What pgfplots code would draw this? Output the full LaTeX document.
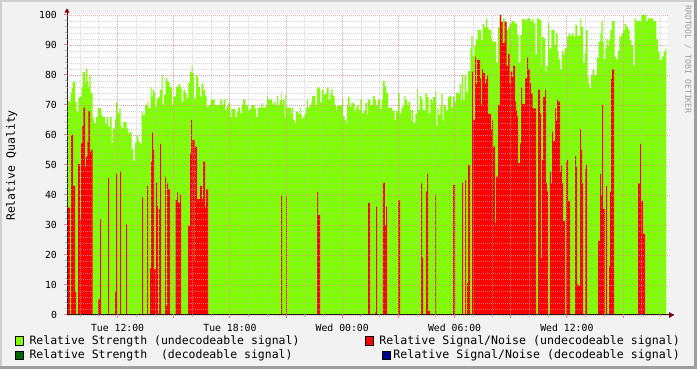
\documentclass[border=0pt]{standalone}
\usepackage{fontspec}
\setmainfont{DejaVu Sans Mono}
\usepackage{pgfplots}
\pgfplotsset{compat=1.18}
\usepackage{pgfplotstable}
\definecolor{grn}{RGB}{128,255,0}
\definecolor{rd}{RGB}{255,0,0}
\definecolor{dgrn}{RGB}{0,100,0}
\definecolor{blu}{RGB}{0,0,140}
\definecolor{bgc}{RGB}{242,242,242}
\definecolor{shA}{RGB}{207,207,207}
\definecolor{shB}{RGB}{158,158,158}
\definecolor{mgrid}{rgb}{0.96,0.5,0.5}
\definecolor{mingrid}{rgb}{0.73,0.73,0.73}
\definecolor{axc}{RGB}{32,32,32}
\definecolor{arrc}{RGB}{128,0,0}

% px = horizontal pixel position, v = relative quality (%)
\pgfplotstableread{
px v
67 72
68.3 71
70.7 74
71.7 75.5
72.7 77.8
75 71
76.7 67.8
78.3 72.5
80 72.8
81.7 75.9
82.7 81
85 77
86 82
87.3 78
88.3 76
89.3 80
90.7 74
92.7 65.5
94 64
96 66
97.7 69
101 66.7
102.7 66
105 63.7
106.7 66
108.3 62.8
110 66
111.7 57.2
112.7 62.2
115 65.2
116 71
117.3 67.2
119.3 68.9
120.7 63
121.7 62.2
123.3 64.4
126.7 62.2
128.3 60.5
130 61
131.7 55.3
133.3 51.4
135 57.4
136.7 60
138.3 57.8
140 57
141.7 67.8
142.7 66.7
145 70
147.3 71
148.3 68.9
150.7 75.9
151.7 72.8
152.7 75
154 74
155 69.4
156.7 72.2
158.3 72.8
160 75
161.7 80
162.7 70
164 73.3
165.7 78.9
167.3 77.8
169.3 76
172 70
173.3 72.8
176 76
178.3 77
180 76
181.7 71
183.3 75
185 74
186.7 72.2
188.3 77.4
190 81
191.7 83
192.7 80.5
194 72.2
196 80
197.3 79.2
198.3 76
200 72.8
201.7 77.2
203.3 75
205 73
206.7 69.2
208.3 70
210.7 71.7
212 71.9
214.7 70
220.3 71.9
222 70
223.7 71.9
225.3 68.3
227 69.5
228 70.5
230.3 66
231.3 68.7
235.3 66
237 67.8
238 69.2
240.3 67.2
242 70
243 71.9
245.3 70
248 68.1
249.7 68.8
251.3 70
254.7 68.9
256 66
257.7 69.1
261.3 70.5
262.7 69.1
266 70
267 73
268 71.9
272 70.2
273.7 71
275.3 70
277 73
278 70
279.7 71.7
281.3 74.1
282 70
283 71.9
284.7 65.9
285.3 73.3
286.3 69.1
291 67
292 69.1
293 65
294.7 64.1
296 67.8
298 67
299.7 69.1
300.7 66.7
302 65.2
303 65.9
304.7 67
306 69.1
307 71.9
308 69.1
309.7 70
311.3 71.1
312 73
315.3 70
317 75.9
319.3 75.4
320.3 70.8
322 75
323.7 73.3
325.3 74.1
327 75.9
328.7 71.9
330.3 73.9
331.3 75.2
332.7 73
334.7 70
336 68.3
337 70
338.7 69.7
340.3 70
342 71.9
343 66.3
344.7 65
346 63.9
347 70
348 72.6
349.7 69.4
351.3 70.8
352.7 70.5
354.7 68.1
356 69.1
357 70
358.7 68.3
360.3 71.9
362 67.2
363.7 68.1
365.3 70.8
367 66.7
368 71.9
370.3 70
373 73
374.7 71.9
376 70
378 71.9
380.3 68.6
382 71.9
383 78.1
384.7 76.3
386 74.1
388 69.1
392 68.1
394.7 65
396 68.1
398 73.9
399.7 67.2
401.3 68.9
403 70
404.3 73
405.3 71.7
407 70
408.7 71.1
410.3 68.3
411.3 64.7
412 68.3
413 64.1
415.3 67.2
417 75.2
418 68.3
419.7 73
421.3 71.9
422.7 68.3
424.3 68.1
425.3 73.9
427 72.6
428.7 67.2
430.3 71.9
432 70.8
433 72.6
435.3 74.7
436.3 63
437.3 68.9
438.7 66.7
440.3 70
441.3 73.9
442.7 64.8
443.7 70
445.3 69.4
446.3 68.1
448 72.6
449.7 73
451.3 69.1
453 72.8
454.7 71.1
456 74.1
458 73.9
459.7 77
461 71.4
462 80
463 71.7
464.7 80
466.3 74.4
468 81.3
470.3 88.9
471.3 93
472.7 86.3
474.3 89.7
476 91.9
477.7 95
481 91.7
482.7 97
484.3 95.9
486 98.9
487 95.9
488.7 95
491 92.2
492 91.1
496.3 84.1
498 95.9
499.7 99.2
501.3 97.8
503 98.9
504.7 97.8
506.3 95
508 95.9
509.7 97.2
512 98
514.7 97.2
517 93.3
518.7 84.1
520.3 93.3
522 98.6
525.3 98
527 98.9
530.3 98
532.7 98.9
533.7 97.2
535.3 86.9
537 98.9
539.3 98.3
541.3 82.8
542 92.8
543.7 92.2
545.3 81.1
546.3 83
548 97.2
549.3 88.9
551.3 95
554.7 90
556 93.9
557.7 87.8
558.7 85.2
560.3 81.9
562 88.1
563 86.7
564.7 88.9
567 92.8
568.7 93.9
570.3 93
572 93.9
573.7 92.8
575.3 96.7
577 93
580.3 98.9
581.3 96.1
583 84.1
584.7 87.2
586 95
587.7 79.4
588.7 77
589.7 75.6
591 80
592.7 81.9
594.3 80
597 85.6
598.7 91.1
600.3 93.9
601.3 98
602.7 91.1
603.7 85.2
605.3 88.9
606.3 91.9
607.7 89.7
608.7 91.9
610.3 95
612 98
614.7 86.1
616 85.2
618 88.1
619.3 92.8
621.3 93.9
623 95
624.7 97
626.3 96.1
628 95
629.7 91.7
631.3 90
633 83
634.7 98.9
636 98
641.3 100
646.3 98
648 98.9
653 98
656.3 91.9
658 87.8
659.7 85
662 86.1
663.7 87.8
665.3 88.9
666.3 88.9
}\strength

\pgfplotstableread{
px v
67 25.6
68 35.9
70 0
71 60
73 43
75 7.8
76 0
78 50.3
80 31.9
81 57.2
82.3 63
83.3 69.1
85 49.4
86 52.8
87.3 57.8
88.3 68
90 54.4
91 55
92.7 0
98 5.2
100 31.9
101 0
108 45.6
109 0
115 7.6
116 47
117 0
120 47.8
121 0
126 30.2
127 0
142 39.2
143 0
147 43
148 0
150 15.6
151 51.1
152 60.8
153 55
154 15.2
156 44.1
157 36.3
158 0
159 35.3
160 57
161 0
165 46.1
166 3
167 44.1
168 41.9
170 0
175.7 38.3
177 40.9
178 37.4
180 40
181 0
188 29.7
190 53.9
191 65
192 58.3
194.5 17.8
195.2 56.1
197 38.6
200 43
202 38.6
203 51.1
205 36.1
206 41.9
208 0
281 40
282 0
286 39.7
287 0
317 41
318 33.3
320 0
368 37.4
370 0
375 0.8
376 36.1
377 0
383 44.1
385 30
386 36.1
387 0
398 38.3
400 0
421 44.1
422 19.1
423 0
426 41.1
427 47
428 1.3
430 0
435 40.3
436 0
453 43.3
455 0
462 44.1
463 0
465 45
466 0
467 10.6
468 50
470 0
472 81.1
473 65
475 86.1
476 77
477 85
480 78.9
481 70
482 81.9
483 80.6
485 77
486 78.6
487 80
488 67
491 61.9
492 65
493 56.1
495 30.8
496 46.1
498 70
500 100
501 97.8
502.7 90.6
504.7 97.8
506.7 83
508 87
509.7 77
510.7 81.1
512 79.4
513 83
515 71.1
516 68.1
517 66.3
518 50.6
520 57.2
521 75.9
522 70.3
525 78.9
527 85.9
528 81.9
530 77.2
531 73.9
532.7 68.9
536 0
538 75
540 67.2
541 18.9
542 51.7
543 72.6
545 75
546 43.9
547 41.1
548 0
550 47.8
551 43.9
552 61.1
553 58
555 68.9
556 64.7
557 71.9
558 71.1
560 47.8
561 50
562 43.9
563 31.3
565 0
566 51.1
567 51.7
568 38
570 0
575 53
576 49.4
577 10.3
578 9.8
580 61.9
581 55
582 43.9
583 0
585 48.6
586 50
587 0
598 24.7
600 47
601 39.7
602 70
603 35.3
605 0
606 43
607 0
609 16.3
610 41.1
611 78.6
612 81.9
614 0
638 43.9
640 57
641 38
643 27
645 0
666.3 0
}\snr

\begin{document}
\begin{tikzpicture}[x=1pt,y=1pt]
\fill[bgc] (0,0) rectangle (697,369);
\fill[shA] (0,366.5) rectangle (697,369);
\fill[shA] (0,0) rectangle (2,369);
\fill[shB] (0,0) rectangle (697,3);
\fill[shB] (694,0) rectangle (697,369);

\begin{axis}[
  at={(67pt,54pt)}, anchor=south west,
  scale only axis, width=601pt, height=300pt,
  xmin=9.297, xmax=41.402, ymin=0, ymax=100,
  clip=false,
  axis on top,
  axis background/.style={fill=white},
  axis line style={draw=none},
  xtick pos=bottom, ytick pos=left,
  tick align=outside,
  major tick length=3pt, minor tick length=2pt,
  major tick style={mgrid, line width=1pt},
  minor tick style={mingrid, line width=1pt},
  xtick={12,15,...,39},
  xticklabels={Tue 12:00,,Tue 18:00,,Wed 00:00,,Wed 06:00,,Wed 12:00,},
  minor xtick={10,11,...,41},
  ytick={0,10,...,100},
  minor ytick={2,4,...,98},
  grid=both,
  major grid style={mgrid, opacity=0.6, line width=0.9pt, dash pattern=on 1pt off 1pt},
  minor grid style={mingrid, opacity=0.6, line width=0.9pt, dash pattern=on 1pt off 1pt},
  /pgf/number format/assume math mode=true,
  xticklabel style={font=\fontsize{9.8pt}{10pt}\selectfont, anchor=base, yshift=-13.3pt},
  yticklabel style={font=\fontsize{9.8pt}{10pt}\selectfont, anchor=east, inner sep=0pt, xshift=-6.9pt},
]
\addplot[const plot, fill=grn, draw=none] table[x expr={12+(\thisrow{px}-117.6)/18.72}, y=v]{\strength} \closedcycle;
\addplot[const plot, fill=rd, draw=none] table[x expr={12+(\thisrow{px}-117.6)/18.72}, y=v]{\snr} \closedcycle;
% axes with arrows
\draw[axc, line width=1pt] (rel axis cs:0,0) -- ([xshift=6pt]rel axis cs:1,0);
\draw[axc, line width=1pt] (rel axis cs:0,0) -- ([yshift=6pt]rel axis cs:0,1);
\fill[arrc] ([xshift=1pt,yshift=3pt]rel axis cs:1,0) -- ([xshift=6pt]rel axis cs:1,0) -- ([xshift=1pt,yshift=-3pt]rel axis cs:1,0) -- cycle;
\fill[arrc] ([xshift=-2.6pt,yshift=2.3pt]rel axis cs:0,1) -- ([yshift=6.5pt]rel axis cs:0,1) -- ([xshift=2.6pt,yshift=2.3pt]rel axis cs:0,1) -- cycle;
\end{axis}

% y axis label
\node[rotate=90, anchor=base, inner sep=0pt, font=\fontsize{11.5pt}{12pt}\selectfont] at (15,203.5) {Relative Quality};
% watermark
\node[rotate=-90, anchor=base west, inner sep=0pt, text=black!38, font=\fontsize{8.2pt}{9pt}\selectfont] at (685.3,364) {RRDTOOL / TOBI OETIKER};

% legend
\draw[black, line width=0.8pt, fill=grn] (15,24) rectangle (23.3,32.3);
\draw[black, line width=0.8pt, fill=dgrn] (15,9.7) rectangle (23.3,18);
\node[anchor=base west, inner sep=0pt, font=\fontsize{11.5pt}{12pt}\selectfont] at (29.3,24) {Relative Strength (undecodeable signal)};
\node[anchor=base west, inner sep=0pt, font=\fontsize{11.5pt}{12pt}\selectfont] at (29.3,10) {Relative Strength\ \ (decodeable signal)};
\draw[black, line width=0.8pt, fill=rd] (365,24) rectangle (373.3,32.3);
\draw[black, line width=0.8pt, fill=blu] (382.7,9.7) rectangle (390.7,18);
\node[anchor=base east, inner sep=0pt, font=\fontsize{11.6pt}{12pt}\selectfont] at (680,24) {Relative Signal/Noise (undecodeable signal)};
\node[anchor=base east, inner sep=0pt, font=\fontsize{11.6pt}{12pt}\selectfont] at (680,10) {Relative Signal/Noise (decodeable signal)};

\pgfresetboundingbox
\path (0,0) rectangle (697,369);
\end{tikzpicture}
\end{document}
